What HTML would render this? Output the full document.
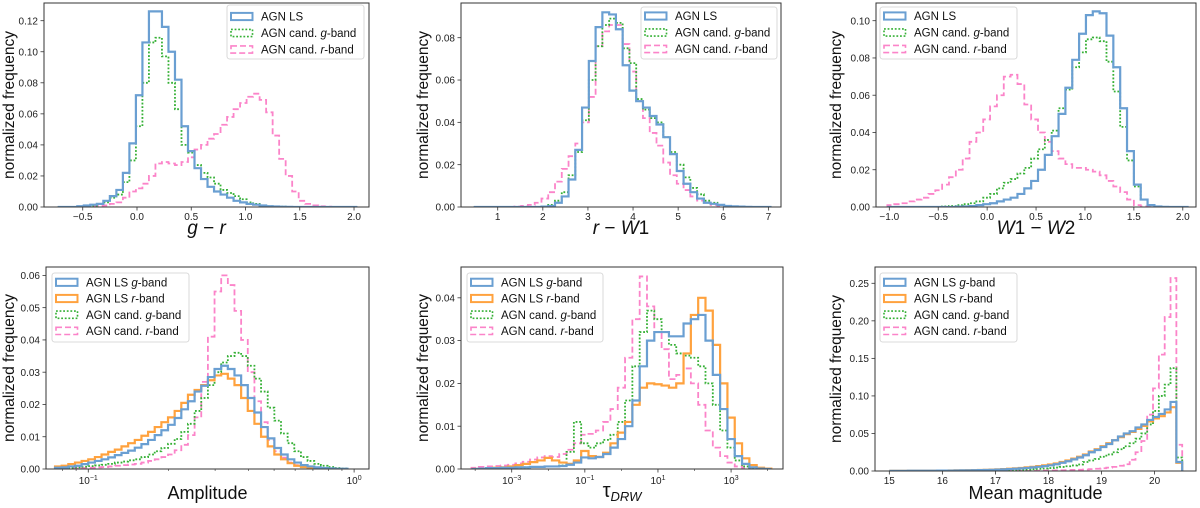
<!DOCTYPE html>
<html><head><meta charset="utf-8"><style>
html,body{margin:0;padding:0;background:#fff;}
svg{display:block;font-family:"Liberation Sans",sans-serif;}
</style></head><body>
<svg id="fig" width="1200" height="508" viewBox="0 0 1200 508" xmlns="http://www.w3.org/2000/svg"></svg>
<script>
// ---------- DATA ----------
// Panel 1: g - r
const grBinStart = -0.73, grBinWidth = 0.06;
const grAgnLs = [0,0,0,0.0005,0.001,0.0015,0.002,0.004,0.007,0.011,0.022,0.041,0.072,0.106,0.126,0.126,0.116,0.1,0.082,0.052,0.036,0.025,0.018,0.013,0.01,0.008,0.006,0.004,0.003,0.002,0.0015,0.001,0.0005,0.0003,0.0002,0.0001,0,0,0,0,0,0,0,0,0,0];
const grCandG = [0,0,0,0.0003,0.0005,0.001,0.002,0.003,0.006,0.008,0.016,0.03,0.052,0.08,0.106,0.109,0.097,0.08,0.063,0.04,0.035,0.027,0.022,0.019,0.015,0.011,0.009,0.007,0.005,0.003,0.002,0.001,0.0005,0.0003,0.0002,0.0001,0,0,0,0,0,0,0,0,0,0];
const grCandR = [0,0,0,0.0002,0.0003,0.0005,0.0007,0.001,0.002,0.003,0.006,0.01,0.012,0.015,0.02,0.028,0.029,0.028,0.027,0.029,0.032,0.037,0.04,0.044,0.047,0.053,0.058,0.063,0.067,0.071,0.073,0.069,0.061,0.046,0.031,0.02,0.01,0.004,0.002,0.001,0.0005,0.0002,0,0,0,0];
const grXTicks = [-0.5,0,0.5,1,1.5,2];
const grXTickLabels = ["\u22120.5","0.0","0.5","1.0","1.5","2.0"];
const grYTicks = [0,0.02,0.04,0.06,0.08,0.1,0.12];
const grYTickLabels = ["0.00","0.02","0.04","0.06","0.08","0.10","0.12"];

// Panel 2: r - W1
const rwBinStart = 0.47, rwBinWidth = 0.15;
const rwAgnLs = [0,0,0,0,0,0,0,0,0,0,0.0002,0.0005,0.002,0.005,0.013,0.027,0.047,0.069,0.085,0.092,0.091,0.084,0.067,0.055,0.05,0.047,0.043,0.039,0.033,0.025,0.017,0.011,0.007,0.004,0.002,0.0015,0.001,0.0005,0.0003,0.0002,0.0001,0,0,0];
const rwCandG = [0,0,0,0,0,0,0,0,0,0,0.0003,0.001,0.003,0.007,0.015,0.026,0.041,0.06,0.076,0.086,0.089,0.087,0.075,0.068,0.051,0.046,0.042,0.04,0.033,0.026,0.02,0.014,0.009,0.006,0.003,0.002,0.001,0.0005,0.0003,0.0001,0,0,0,0];
const rwCandR = [0,0,0,0,0,0,0.0002,0.0005,0.001,0.002,0.004,0.007,0.012,0.018,0.024,0.03,0.04,0.052,0.076,0.083,0.086,0.086,0.077,0.064,0.05,0.042,0.035,0.029,0.021,0.015,0.011,0.008,0.005,0.003,0.002,0.001,0.0005,0.0002,0,0,0,0,0,0];
const rwXTicks = [1,2,3,4,5,6,7];
const rwXTickLabels = ["1","2","3","4","5","6","7"];
const rwYTicks = [0,0.02,0.04,0.06,0.08];
const rwYTickLabels = ["0.00","0.02","0.04","0.06","0.08"];

// Panel 3: W1 - W2
const wwBinStart = -1.02, wwBinWidth = 0.07;
const wwAgnLs = [0,0,0,0,0,0,0,0,0,0,0.0002,0.0003,0.0005,0.001,0.0015,0.002,0.003,0.004,0.005,0.007,0.01,0.014,0.02,0.028,0.038,0.05,0.064,0.079,0.093,0.103,0.105,0.104,0.092,0.075,0.053,0.03,0.012,0.004,0.001,0.0003,0.0001,0,0,0];
const wwCandG = [0,0,0,0,0,0,0,0,0.0003,0.0005,0.001,0.0015,0.002,0.003,0.005,0.007,0.01,0.013,0.015,0.018,0.021,0.026,0.031,0.036,0.041,0.053,0.063,0.075,0.083,0.09,0.091,0.089,0.078,0.062,0.043,0.025,0.011,0.004,0.001,0.0003,0,0,0,0];
const wwCandR = [0.001,0.0015,0.002,0.003,0.004,0.005,0.007,0.009,0.012,0.016,0.02,0.026,0.035,0.04,0.047,0.054,0.06,0.07,0.071,0.066,0.055,0.047,0.04,0.035,0.03,0.026,0.023,0.021,0.021,0.02,0.019,0.017,0.014,0.011,0.008,0.004,0.001,0.0003,0,0,0,0,0,0];
const wwXTicks = [-1,-0.5,0,0.5,1,1.5,2];
const wwXTickLabels = ["\u22121.0","\u22120.5","0.0","0.5","1.0","1.5","2.0"];
const wwYTicks = [0,0.02,0.04,0.06,0.08,0.1];
const wwYTickLabels = ["0.00","0.02","0.04","0.06","0.08","0.10"];

// Panel 4: Amplitude (bins in log10)
const ampBinStart = -1.125, ampBinWidth = 0.025;
const ampLsG = [0.0004,0.0005,0.0008,0.001,0.0015,0.002,0.0025,0.003,0.0036,0.0043,0.005,0.0057,0.0066,0.0077,0.009,0.0105,0.012,0.0137,0.0158,0.0185,0.021,0.024,0.0258,0.0285,0.031,0.032,0.031,0.029,0.026,0.022,0.0175,0.013,0.0095,0.0065,0.0045,0.003,0.002,0.0012,0.0008,0.0005,0.0003,0.0002,0.0001,0.0001];
const ampLsR = [0.0008,0.001,0.0015,0.002,0.0025,0.003,0.0037,0.0045,0.0053,0.006,0.007,0.008,0.009,0.0103,0.0115,0.013,0.0145,0.016,0.018,0.0205,0.023,0.0245,0.026,0.0275,0.029,0.0295,0.028,0.026,0.022,0.018,0.014,0.01,0.007,0.0045,0.003,0.0018,0.001,0.0006,0.0003,0.0002,0.0001,0.0001,0,0];
const ampCandG = [0.0002,0.0003,0.0004,0.0005,0.0007,0.0009,0.0011,0.0013,0.0016,0.002,0.0023,0.0027,0.003,0.0037,0.0045,0.0055,0.0065,0.0078,0.0093,0.0115,0.014,0.018,0.022,0.026,0.03,0.033,0.035,0.036,0.035,0.032,0.028,0.024,0.019,0.015,0.011,0.008,0.0055,0.0037,0.0025,0.0016,0.001,0.0006,0.0003,0.0002];
const ampCandR = [0.0001,0.0001,0.0002,0.0002,0.0003,0.0004,0.0005,0.0006,0.0008,0.001,0.0012,0.0014,0.0016,0.002,0.0025,0.003,0.0037,0.0045,0.0058,0.0075,0.0105,0.016,0.027,0.041,0.055,0.06,0.057,0.049,0.04,0.03,0.021,0.0145,0.009,0.0055,0.0035,0.002,0.0012,0.0007,0.0004,0.0002,0.0001,0.0001,0,0];
const ampXTicks = [-1,0];
const ampXTickExps = ["\u22121","0"];
const ampMinorTicks = [0.08,0.09,0.2,0.3,0.4,0.5,0.6,0.7,0.8,0.9];
const ampYTicks = [0,0.01,0.02,0.03,0.04,0.05,0.06];
const ampYTickLabels = ["0.00","0.01","0.02","0.03","0.04","0.05","0.06"];

// Panel 5: tau_DRW (bins in log10)
const tauBinStart = -4.1, tauBinWidth = 0.2;
const tauLsG = [0,0.0001,0.0002,0.0002,0.0003,0.0003,0.0004,0.0004,0.0005,0.0005,0.0006,0.0006,0.0007,0.001,0.0015,0.0027,0.0025,0.0028,0.0035,0.005,0.007,0.01,0.016,0.024,0.03,0.032,0.032,0.031,0.031,0.034,0.035,0.036,0.03,0.022,0.014,0.007,0.003,0.0012,0.0004,0.0001,0];
const tauLsR = [0,0.0001,0.0002,0.0003,0.0004,0.0006,0.0009,0.0012,0.0016,0.002,0.0026,0.002,0.0015,0.0012,0.002,0.0042,0.003,0.0028,0.0038,0.006,0.0085,0.011,0.015,0.019,0.02,0.0198,0.0195,0.019,0.02,0.027,0.036,0.04,0.037,0.029,0.02,0.012,0.006,0.0025,0.0009,0.0003,0.0001];
const tauCandG = [0,0.0001,0.0002,0.0002,0.0003,0.0003,0.0004,0.0004,0.0005,0.0005,0.0006,0.0006,0.0008,0.004,0.011,0.006,0.005,0.006,0.0068,0.008,0.011,0.016,0.024,0.032,0.037,0.035,0.032,0.029,0.027,0.0265,0.026,0.024,0.02,0.015,0.009,0.005,0.002,0.0006,0.0002,0,0];
const tauCandR = [0.0003,0.0005,0.0006,0.0007,0.0008,0.001,0.0013,0.0017,0.0022,0.0027,0.003,0.0028,0.0035,0.0045,0.006,0.008,0.0082,0.009,0.011,0.014,0.019,0.026,0.035,0.045,0.038,0.032,0.028,0.021,0.022,0.0235,0.02,0.015,0.009,0.005,0.003,0.0015,0.0006,0.0002,0,0,0];
const tauXTicks = [-3,-1,1,3];
const tauXTickExps = ["\u22123","\u22121","1","3"];
const tauMinorTicks = [-4,-2,0,2,4];
const tauYTicks = [0,0.01,0.02,0.03,0.04];
const tauYTickLabels = ["0.00","0.01","0.02","0.03","0.04"];

// Panel 6: mean magnitude
const magBinStart = 15.02, magBinWidth = 0.11;
const magLsG = [0.0002,0.0002,0.0002,0.0003,0.0003,0.0003,0.0004,0.0004,0.0005,0.0005,0.0006,0.0007,0.0008,0.0009,0.001,0.0012,0.0014,0.0016,0.0019,0.0022,0.0026,0.003,0.0035,0.0041,0.0048,0.0056,0.0065,0.0076,0.009,0.011,0.013,0.0155,0.018,0.021,0.025,0.028,0.032,0.036,0.041,0.046,0.05,0.053,0.058,0.062,0.068,0.072,0.076,0.082,0.092,0.012];
const magLsR = [0.0002,0.0002,0.0002,0.0003,0.0003,0.0003,0.0004,0.0004,0.0005,0.0006,0.0007,0.0008,0.0009,0.001,0.0012,0.0014,0.0016,0.0019,0.0022,0.0026,0.003,0.0035,0.0041,0.0048,0.0056,0.0065,0.0075,0.0087,0.01,0.012,0.014,0.0165,0.019,0.022,0.026,0.029,0.033,0.037,0.041,0.045,0.049,0.052,0.056,0.06,0.066,0.07,0.073,0.078,0.085,0.011];
const magCandG = [0.0001,0.0001,0.0001,0.0001,0.0001,0.0002,0.0002,0.0002,0.0002,0.0003,0.0003,0.0003,0.0004,0.0004,0.0005,0.0006,0.0007,0.0008,0.0009,0.001,0.0012,0.0014,0.0017,0.002,0.0024,0.0028,0.0033,0.0039,0.0046,0.0054,0.0063,0.0074,0.0087,0.012,0.014,0.016,0.019,0.022,0.025,0.029,0.033,0.037,0.043,0.05,0.062,0.08,0.1,0.115,0.137,0.018];
const magCandR = [0,0,0,0,0,0,0,0,0,0,0,0,0,0,0,0.0001,0.0001,0.0001,0.0001,0.0002,0.0002,0.0002,0.0003,0.0003,0.0004,0.0005,0.0006,0.0007,0.0008,0.001,0.0012,0.0014,0.0017,0.002,0.0025,0.003,0.0037,0.0045,0.0055,0.007,0.009,0.015,0.025,0.04,0.075,0.11,0.155,0.205,0.257,0.035];
const magXTicks = [15,16,17,18,19,20];
const magXTickLabels = ["15","16","17","18","19","20"];
const magYTicks = [0,0.05,0.1,0.15,0.2,0.25];
const magYTickLabels = ["0.00","0.05","0.10","0.15","0.20","0.25"];

// ---------- DRAWING ----------
const NS = "http://www.w3.org/2000/svg";
const svg = document.getElementById("fig");
const BLUE = "#6a9fd2", ORANGE = "#ffa23e", GREEN = "#35b035", PINK = "#fb84c9";
const STYLES = {
  lsg: {stroke: BLUE, w: 2.2, dash: null},
  lsr: {stroke: ORANGE, w: 2.2, dash: null},
  cg: {stroke: GREEN, w: 1.8, dash: "1.8,1.8"},
  cr: {stroke: PINK, w: 1.8, dash: "6,3"}
};
function mk(tag, attrs, parent) {
  const e = document.createElementNS(NS, tag);
  for (const k in attrs) e.setAttribute(k, attrs[k]);
  (parent || svg).appendChild(e);
  return e;
}
function makeAxes(p) {
  p.x = v => p.L + (v - p.xmin) / (p.xmax - p.xmin) * (p.R - p.L);
  p.y = v => p.B - v / p.ymax * (p.B - p.T);
  const g = mk("g", {});
  
  
  p.g = g;
  const cp = mk("clipPath", {id: "clip-" + p.name}, g);
  mk("rect", {x: p.L, y: p.T, width: p.R - p.L, height: p.B - p.T}, cp);
  return p;
}
function drawHist(p, start, width, vals, st, name) {
  let d = "M" + p.x(start).toFixed(2) + "," + p.y(0).toFixed(2);
  for (let i = 0; i < vals.length; i++) {
    const x0 = p.x(start + i * width), x1 = p.x(start + (i + 1) * width), yy = p.y(vals[i]);
    d += "L" + x0.toFixed(2) + "," + yy.toFixed(2) + "L" + x1.toFixed(2) + "," + yy.toFixed(2);
  }
  d += "L" + p.x(start + vals.length * width).toFixed(2) + "," + p.y(0).toFixed(2);
  const a = {d: d, fill: "none", stroke: st.stroke, "stroke-width": st.w, "clip-path": "url(#clip-" + p.name + ")", "stroke-linejoin": "miter"};
  if (st.dash) a["stroke-dasharray"] = st.dash;
  const path = mk("path", a, p.g);
  
  
}
function drawFrame(p) {
  const r = mk("rect", {x: p.L, y: p.T, width: p.R - p.L, height: p.B - p.T, fill: "none", stroke: "#333", "stroke-width": 1}, p.g);
  
  
}
function yAxis(p, ticks, labels) {
  ticks.forEach((t, i) => {
    const yy = p.y(t);
    mk("line", {x1: p.L - 3.5, x2: p.L, y1: yy, y2: yy, stroke: "#333", "stroke-width": 0.8}, p.g);
    const tx = mk("text", {x: p.L - 6, y: yy + 3.6, "text-anchor": "end", "font-size": 10, fill: "#222"}, p.g);
    tx.textContent = labels[i];
    
    
  });
  const cx = p.ylabX, cy = (p.T + p.B) / 2;
  const lab = mk("text", {x: cx, y: cy, transform: "rotate(-90 " + cx + " " + cy + ")", "text-anchor": "middle", "font-size": 16, fill: "#111", textLength: 148, lengthAdjust: "spacingAndGlyphs"}, p.g);
  lab.textContent = "normalized frequency";
  
  
}
function xAxisLin(p, ticks, labels) {
  ticks.forEach((t, i) => {
    const xx = p.x(t);
    mk("line", {x1: xx, x2: xx, y1: p.B, y2: p.B + 3.5, stroke: "#333", "stroke-width": 0.8}, p.g);
    const tx = mk("text", {x: xx, y: p.B + 13, "text-anchor": "middle", "font-size": 10, fill: "#222"}, p.g);
    tx.textContent = labels[i];
    
    
  });
}
function xAxisLog(p, ticks, exps, minor) {
  ticks.forEach((t, i) => {
    const xx = p.x(t);
    mk("line", {x1: xx, x2: xx, y1: p.B, y2: p.B + 3.5, stroke: "#333", "stroke-width": 0.8}, p.g);
    const tx = mk("text", {x: xx, y: p.B + 15, "text-anchor": "middle", "font-size": 10, fill: "#222"}, p.g);
    
    
    const b = document.createElementNS(NS, "tspan"); b.textContent = "10"; tx.appendChild(b);
    const s = document.createElementNS(NS, "tspan");
    s.setAttribute("dy", "-4"); s.setAttribute("font-size", "7"); s.textContent = exps[i]; tx.appendChild(s);
  });
  minor.forEach(m => {
    const xx = p.x(m);
    if (xx > p.L && xx < p.R) mk("line", {x1: xx, x2: xx, y1: p.B, y2: p.B + 2, stroke: "#333", "stroke-width": 0.6}, p.g);
  });
}
function xTitle(p, html, size, yy, name) {
  const t = mk("text", {x: (p.L + p.R) / 2, y: yy, "text-anchor": "middle", "font-size": size, fill: "#111"}, p.g);
  t.innerHTML = html;
  
  
}
function legend(p, bx, by, bw, bh, entries, row0, gap) {
  const lg = mk("g", {}, p.g);
  
  
  mk("rect", {x: bx, y: by, width: bw, height: bh, rx: 2.5, fill: "#fff", "fill-opacity": 0.85, stroke: "#d0d0d0", "stroke-width": 0.8}, lg);
  entries.forEach((e, i) => {
    const cy = row0 + i * gap;
    const ent = mk("g", {}, lg);
    
    
    const a = {x: bx + 4, y: cy - 3.6, width: 21.5, height: 7.2, fill: "none", stroke: e.st.stroke, "stroke-width": e.st.w * 0.9};
    if (e.st.dash) a["stroke-dasharray"] = e.st.dash;
    mk("rect", a, ent);
    const t = mk("text", {x: bx + 34, y: cy + 4.2, "font-size": 11.5, fill: "#111"}, ent);
    t.innerHTML = e.label;
  });
}
const L3 = [{st: STYLES.lsg, label: "AGN LS"}, {st: STYLES.cg, label: "AGN cand. <tspan font-style='italic'>g</tspan>-band"}, {st: STYLES.cr, label: "AGN cand. <tspan font-style='italic'>r</tspan>-band"}];
const L4 = [{st: STYLES.lsg, label: "AGN LS <tspan font-style='italic'>g</tspan>-band"}, {st: STYLES.lsr, label: "AGN LS <tspan font-style='italic'>r</tspan>-band"}, {st: STYLES.cg, label: "AGN cand. <tspan font-style='italic'>g</tspan>-band"}, {st: STYLES.cr, label: "AGN cand. <tspan font-style='italic'>r</tspan>-band"}];

// Panel 1
let p = makeAxes({name: "panel-g-r", L: 44, R: 369, T: 3, B: 207, xmin: -0.857, xmax: 2.138, ymax: 0.1314, ylabX: 14});
drawHist(p, grBinStart, grBinWidth, grCandR, STYLES.cr, "series-cand-r");
drawHist(p, grBinStart, grBinWidth, grCandG, STYLES.cg, "series-cand-g");
drawHist(p, grBinStart, grBinWidth, grAgnLs, STYLES.lsg, "series-agn-ls");
drawFrame(p); yAxis(p, grYTicks, grYTickLabels); xAxisLin(p, grXTicks, grXTickLabels);
xTitle(p, "<tspan font-style='italic'>g</tspan> \u2212 <tspan font-style='italic'>r</tspan>", 19, 234, "x-axis-title");
legend(p, 227, 5, 137, 54, L3, 16.5, 16.5);

// Panel 2
p = makeAxes({name: "panel-r-w1", L: 461, R: 781, T: 3, B: 207, xmin: 0.186, xmax: 7.28, ymax: 0.0964, ylabX: 428});
drawHist(p, rwBinStart, rwBinWidth, rwCandR, STYLES.cr, "series-cand-r");
drawHist(p, rwBinStart, rwBinWidth, rwCandG, STYLES.cg, "series-cand-g");
drawHist(p, rwBinStart, rwBinWidth, rwAgnLs, STYLES.lsg, "series-agn-ls");
drawFrame(p); yAxis(p, rwYTicks, rwYTickLabels); xAxisLin(p, rwXTicks, rwXTickLabels);
xTitle(p, "<tspan font-style='italic'>r</tspan> \u2212 <tspan font-style='italic'>W</tspan>1", 19, 234, "x-axis-title");
legend(p, 641, 7, 136, 52, L3, 16, 16.5);

// Panel 3
p = makeAxes({name: "panel-w1-w2", L: 876, R: 1196, T: 3, B: 207, xmin: -1.136, xmax: 2.135, ymax: 0.1095, ylabX: 841});
drawHist(p, wwBinStart, wwBinWidth, wwCandR, STYLES.cr, "series-cand-r");
drawHist(p, wwBinStart, wwBinWidth, wwCandG, STYLES.cg, "series-cand-g");
drawHist(p, wwBinStart, wwBinWidth, wwAgnLs, STYLES.lsg, "series-agn-ls");
drawFrame(p); yAxis(p, wwYTicks, wwYTickLabels); xAxisLin(p, wwXTicks, wwXTickLabels);
xTitle(p, "<tspan font-style='italic'>W</tspan>1 \u2212 <tspan font-style='italic'>W</tspan>2", 19, 234, "x-axis-title");
legend(p, 880, 7, 137, 52, L3, 16, 16.5);

// Panel 4
p = makeAxes({name: "panel-amplitude", L: 46, R: 369, T: 267, B: 469, xmin: -1.159, xmax: 0.056, ymax: 0.0626, ylabX: 14});
drawHist(p, ampBinStart, ampBinWidth, ampCandR, STYLES.cr, "series-cand-r");
drawHist(p, ampBinStart, ampBinWidth, ampCandG, STYLES.cg, "series-cand-g");
drawHist(p, ampBinStart, ampBinWidth, ampLsR, STYLES.lsr, "series-ls-r");
drawHist(p, ampBinStart, ampBinWidth, ampLsG, STYLES.lsg, "series-ls-g");
drawFrame(p); yAxis(p, ampYTicks, ampYTickLabels);
xAxisLog(p, ampXTicks, ampXTickExps, ampMinorTicks.map(v => Math.log10(v)));
xTitle(p, "Amplitude", 18, 499, "x-axis-title");
legend(p, 52, 273, 137, 69, L4, 282.3, 16.2);

// Panel 5
p = makeAxes({name: "panel-tau-drw", L: 461, R: 783, T: 267, B: 469, xmin: -4.387, xmax: 4.42, ymax: 0.0472, ylabX: 428});
drawHist(p, tauBinStart, tauBinWidth, tauCandR, STYLES.cr, "series-cand-r");
drawHist(p, tauBinStart, tauBinWidth, tauCandG, STYLES.cg, "series-cand-g");
drawHist(p, tauBinStart, tauBinWidth, tauLsR, STYLES.lsr, "series-ls-r");
drawHist(p, tauBinStart, tauBinWidth, tauLsG, STYLES.lsg, "series-ls-g");
drawFrame(p); yAxis(p, tauYTicks, tauYTickLabels);
xAxisLog(p, tauXTicks, tauXTickExps, tauMinorTicks);
xTitle(p, "\u03C4<tspan font-style='italic' font-size='13' dy='4'>DRW</tspan>", 20, 497, "x-axis-title");
legend(p, 467, 273, 136, 69, L4, 282.3, 16.2);

// Panel 6
p = makeAxes({name: "panel-mean-magnitude", L: 875, R: 1196, T: 267, B: 471, xmin: 14.73, xmax: 20.78, ymax: 0.2717, ylabX: 841});
drawHist(p, magBinStart, magBinWidth, magCandR, STYLES.cr, "series-cand-r");
drawHist(p, magBinStart, magBinWidth, magCandG, STYLES.cg, "series-cand-g");
drawHist(p, magBinStart, magBinWidth, magLsR, STYLES.lsr, "series-ls-r");
drawHist(p, magBinStart, magBinWidth, magLsG, STYLES.lsg, "series-ls-g");
drawFrame(p); yAxis(p, magYTicks, magYTickLabels); xAxisLin(p, magXTicks, magXTickLabels);
xTitle(p, "Mean magnitude", 18, 499, "x-axis-title");
legend(p, 880, 273, 137, 69, L4, 282.3, 16.2);
</script>
</body></html>
